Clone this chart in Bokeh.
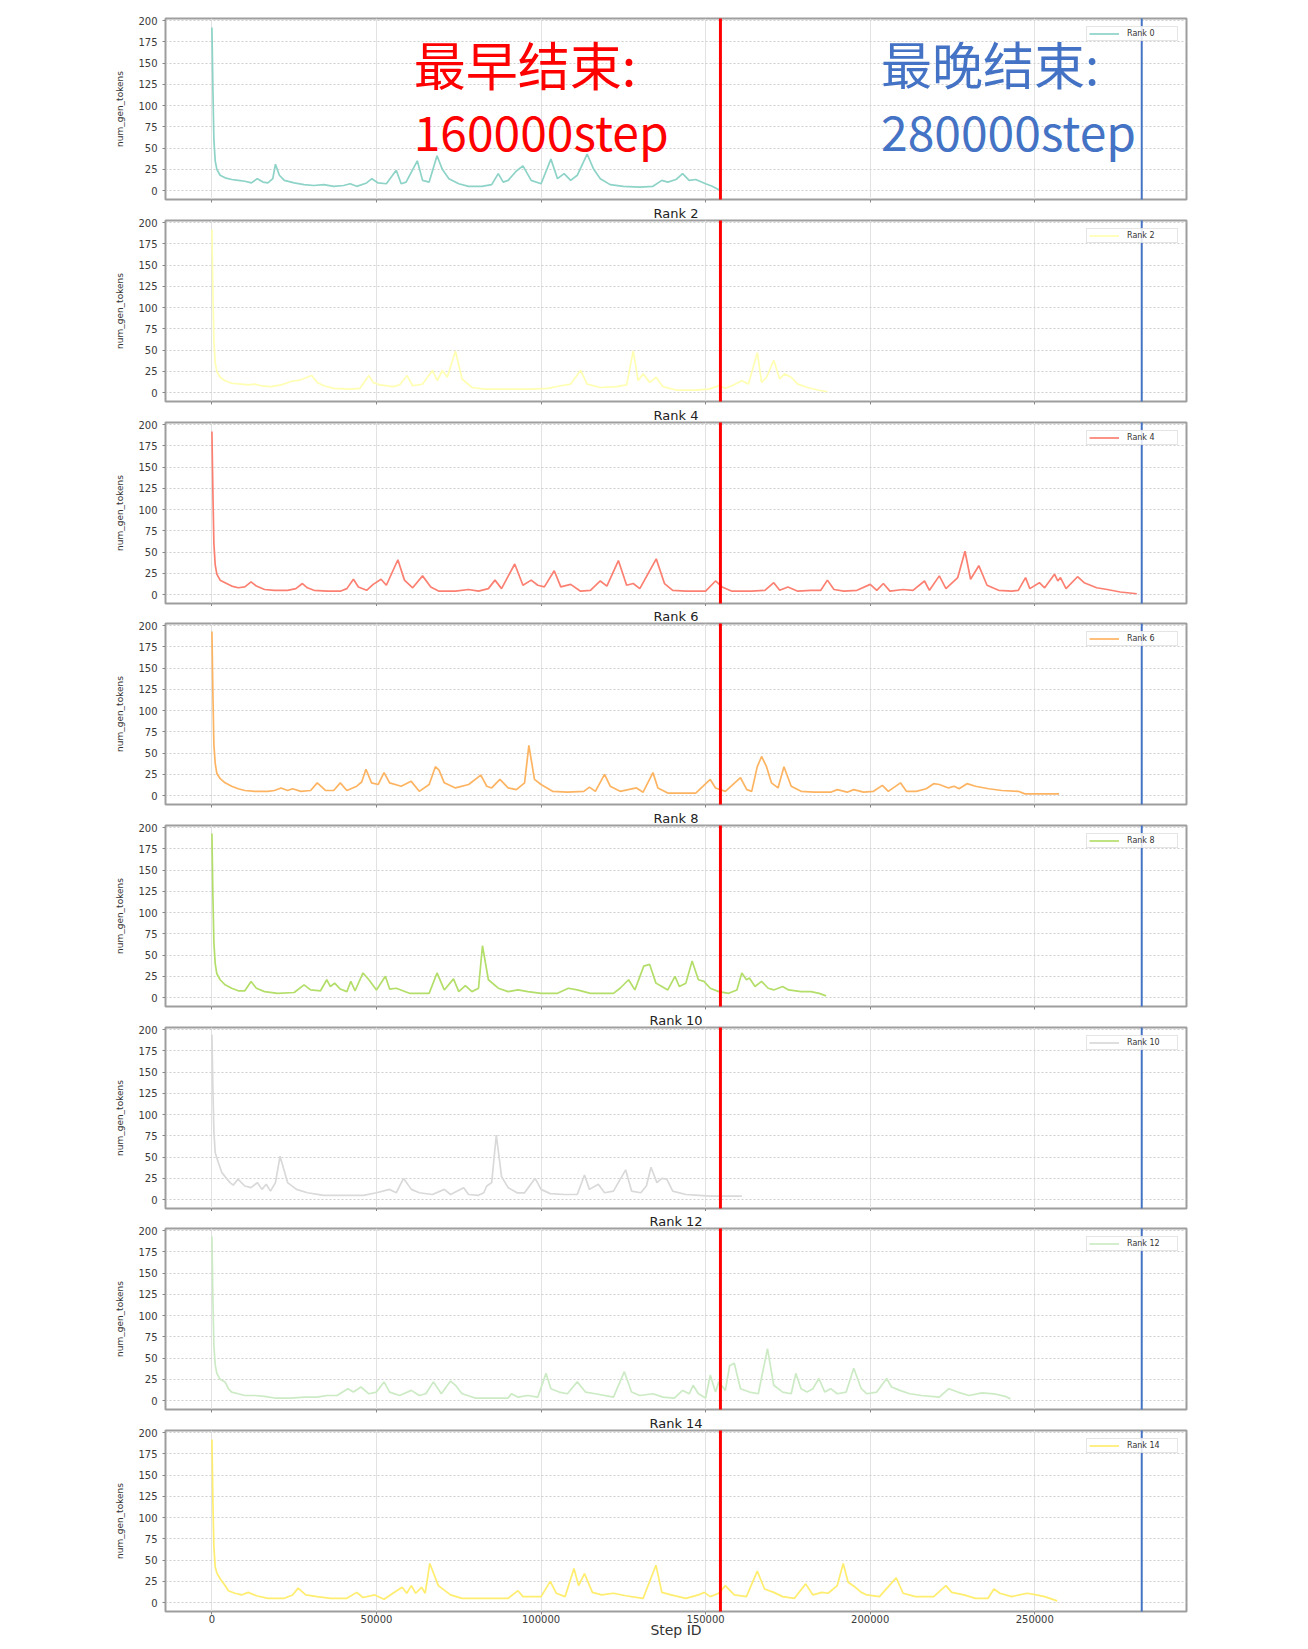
from bokeh.plotting import figure
from bokeh.layouts import column
from bokeh.models import Range1d, FixedTicker, BasicTickFormatter, BoxAnnotation, Label
from bokeh.embed import file_html
from bokeh.resources import INLINE

# ---------------- data ----------------
rank_names = ["Rank 0", "Rank 2", "Rank 4", "Rank 6", "Rank 8", "Rank 10", "Rank 12", "Rank 14"]
rank_colors = ["#8dd3c7", "#ffffb3", "#fb8072", "#fdb462", "#b3de69", "#d9d9d9", "#ccebc5", "#ffed6f"]
x_ticks = [0, 50000, 100000, 150000, 200000, 250000]
y_ticks = [0, 25, 50, 75, 100, 125, 150, 175, 200]
earliest_end_step = 154500
latest_end_step = 282500
earliest_text = ["最早结束:", "160000step"]
latest_text = ["最晚结束:", "280000step"]

rank0_x = [0, 300, 600, 1000, 1500, 2500, 4000, 6000, 8000, 10000, 12000, 13800, 15500, 17000, 18500,
           19300, 20500, 22000, 25000, 28000, 31000, 34000, 37000, 40000, 42000, 44000, 47000, 48600, 50500, 53000,
           56000, 57500, 59000, 62400, 64000, 66000, 68400, 70000, 72000, 75000, 78000, 82000, 85000, 87000, 88500,
           90000, 92500, 94500, 97000, 100000, 103000, 105000, 107000, 109000, 111000, 114000, 116000, 118000, 121000, 125000,
           130000, 134000, 136700, 138500, 141000, 143000, 145000, 147000, 150000, 152000, 154000]
rank0_y = [192, 120, 60, 35, 25, 18, 15, 13, 12, 11, 9, 14, 10, 9, 14,
           31, 18, 12, 9, 7, 6, 7, 5, 6, 8, 5, 9, 14, 9, 8,
           24, 8, 10, 35, 12, 10, 41, 25, 14, 8, 5, 5, 7, 20, 10,
           12, 23, 29, 12, 8, 37, 14, 20, 12, 18, 43, 25, 14, 7, 5,
           4, 5, 12, 10, 13, 20, 12, 13, 8, 5, 1]

rank2_x = [0, 300, 600, 1000, 1500, 2500, 4000, 6000, 9000, 11000, 13000, 15000, 18000, 21000, 24000,
           27000, 30300, 32000, 34000, 37000, 42000, 45000, 47700, 49000, 51000, 55000, 57000, 59300, 61000, 64000,
           67000, 68500, 70000, 71500, 74000, 76000, 79000, 83000, 90000, 97000, 102000, 106000, 109000, 112000, 114000,
           118000, 123000, 126000, 128000, 129500, 131000, 133000, 135000, 137000, 141000, 147000, 151000, 154000, 156000, 158000,
           161000, 163000, 165700, 167000, 168500, 170700, 172500, 174000, 176000, 178000, 181000, 184000, 187000]
rank2_y = [192, 120, 60, 35, 25, 18, 14, 11, 10, 9, 10, 8, 7, 9, 13,
           15, 20, 12, 8, 5, 4, 5, 20, 12, 9, 7, 9, 20, 8, 10,
           26, 14, 26, 18, 49, 16, 6, 4, 4, 4, 5, 8, 10, 26, 10,
           6, 7, 9, 49, 14, 22, 12, 18, 7, 3, 3, 4, 8, 5, 8,
           14, 10, 47, 12, 18, 38, 16, 22, 18, 10, 6, 3, 1]

rank4_x = [0, 300, 600, 1000, 1500, 2500, 4000, 6000, 8000, 10000, 11900, 13500, 16000, 19000, 23000,
           25500, 27500, 29000, 31000, 35000, 39000, 41000, 43000, 44500, 47000, 49000, 51400, 53000, 56500, 58500,
           61000, 64000, 66500, 69000, 74000, 78000, 81000, 84000, 86000, 88000, 92000, 94500, 97000, 99000, 101000,
           104000, 106000, 109000, 112000, 115000, 118000, 120000, 123500, 126000, 128000, 130000, 135000, 137500, 140000, 144000,
           150000, 153000, 155000, 158000, 164000, 168000, 170700, 172500, 175000, 178000, 182000, 185000, 187000, 189000, 192000,
           196000, 200000, 202000, 204000, 206000, 210000, 213000, 216500, 218000, 221000, 223000, 226600, 228800, 230500, 233000,
           235500, 239000, 243000, 245000, 247200, 248500, 251400, 253000, 256000, 257000, 257800, 259500, 263000, 265000, 268800,
           272000, 276000, 281000]
rank4_y = [192, 120, 60, 35, 24, 17, 14, 10, 8, 9, 15, 10, 6, 5, 5,
           7, 13, 8, 5, 4, 4, 7, 18, 9, 5, 12, 18, 11, 41, 17,
           8, 22, 9, 4, 4, 6, 4, 7, 17, 7, 36, 11, 17, 11, 9,
           28, 9, 12, 4, 5, 16, 10, 40, 11, 13, 7, 42, 13, 5, 4,
           4, 16, 9, 4, 4, 5, 14, 5, 9, 4, 5, 5, 17, 6, 4,
           5, 12, 5, 13, 4, 6, 5, 16, 5, 22, 7, 20, 51, 18, 34,
           11, 5, 4, 5, 20, 7, 14, 8, 24, 16, 20, 7, 21, 14, 8,
           6, 3, 1]

rank6_x = [0, 300, 600, 1000, 1500, 2500, 4000, 6000, 8000, 10000, 13000, 17000, 19000, 21000, 23000,
           24500, 27000, 30000, 32000, 34500, 37000, 39000, 41000, 44000, 45500, 46800, 48500, 50500, 52300, 54000,
           57500, 60500, 63000, 66000, 67900, 69000, 70600, 74000, 78000, 81700, 83500, 85000, 87500, 90000, 92500,
           95000, 96300, 98000, 100000, 103500, 108000, 113000, 114700, 116500, 119300, 121000, 124000, 129000, 131000, 134000,
           135500, 138500, 147000, 151400, 153000, 156000, 160600, 162500, 164000, 165700, 167000, 168500, 170000, 172000, 173800,
           176000, 179000, 183000, 188000, 190000, 193000, 195000, 198000, 201000, 203700, 205500, 209200, 211000, 214000, 217000,
           219300, 221000, 223800, 225500, 227000, 229400, 232000, 236000, 240000, 245000, 247000, 257400]
rank6_y = [193, 120, 60, 38, 26, 20, 15, 11, 8, 6, 5, 5, 6, 9, 6,
           8, 5, 6, 15, 6, 6, 15, 6, 11, 16, 31, 15, 13, 27, 15,
           11, 17, 5, 13, 34, 30, 15, 9, 13, 24, 11, 9, 19, 9, 7,
           15, 59, 19, 13, 5, 4, 5, 10, 5, 25, 11, 5, 9, 4, 27,
           9, 3, 3, 19, 9, 5, 21, 7, 5, 34, 46, 34, 15, 9, 34,
           11, 5, 4, 4, 7, 4, 7, 4, 5, 12, 5, 15, 5, 5, 8,
           14, 13, 9, 11, 8, 14, 11, 8, 6, 5, 2, 2]

rank8_x = [0, 300, 600, 1000, 1500, 2500, 4000, 6000, 8000, 10000, 11900, 13500, 16000, 20000, 25000,
           28000, 30000, 33000, 34900, 36000, 37300, 39000, 41000, 42200, 43500, 45900, 47700, 50000, 52700, 54000,
           56000, 60000, 66000, 68400, 70600, 73400, 75000, 77000, 79000, 81000, 82200, 84000, 87000, 90000, 93000,
           96000, 100000, 105000, 108300, 111000, 115000, 122000, 124000, 126600, 128500, 131200, 133000, 134900, 136700, 138500,
           140700, 142000, 144000, 145900, 147800, 149500, 151400, 154000, 157000, 159500, 161000, 162400, 163300, 165000, 167000,
           169000, 170700, 173400, 175200, 179000, 182000, 184500, 186600]
rank8_y = [193, 120, 65, 40, 28, 21, 15, 11, 8, 8, 19, 11, 7, 5, 6,
           15, 9, 8, 21, 13, 17, 10, 7, 19, 8, 29, 21, 9, 25, 10,
           11, 5, 5, 29, 9, 22, 7, 14, 7, 11, 61, 21, 11, 7, 9,
           7, 5, 5, 11, 9, 5, 5, 11, 21, 9, 37, 39, 17, 13, 9,
           25, 13, 17, 43, 21, 19, 11, 7, 5, 9, 29, 21, 23, 13, 19,
           11, 9, 13, 9, 7, 7, 5, 2]

rank10_x = [0, 300, 600, 1000, 2000, 3000, 4000, 5500, 6500, 7900, 10000, 11900, 13800, 15200, 16500,
            17800, 19300, 20700, 23000, 25700, 29000, 34000, 40000, 46000, 50000, 54000, 56000, 58200, 60600, 63000,
            67000, 70600, 72500, 76500, 78000, 81000, 82600, 83500, 85000, 86400, 88000, 90000, 92700, 95000, 98200,
            100000, 102800, 107000, 111000, 113200, 114700, 117400, 119300, 122000, 125700, 127500, 130300, 132000, 133400, 135200,
            136700, 138200, 140000, 144000, 148000, 151400, 155000, 161000]
rank10_y = [194, 130, 80, 55, 43, 32, 27, 20, 17, 24, 16, 14, 20, 12, 18,
            10, 20, 51, 20, 12, 8, 5, 5, 5, 8, 12, 8, 25, 12, 8,
            6, 12, 6, 14, 6, 5, 8, 16, 20, 76, 27, 14, 8, 8, 25,
            12, 7, 6, 6, 29, 12, 18, 8, 10, 35, 10, 8, 16, 38, 20,
            25, 24, 10, 6, 5, 4, 4, 4]

rank12_x = [0, 300, 600, 1000, 1500, 2500, 4000, 5000, 6000, 8000, 10000, 13000, 16000, 19000, 24000,
            28000, 32000, 35000, 38000, 41300, 43000, 45300, 47700, 50000, 52300, 54000, 57000, 60600, 63000, 65000,
            67300, 69700, 72500, 74000, 76000, 80000, 85000, 90000, 91000, 93000, 96000, 99000, 101500, 103000, 105500,
            108000, 111000, 113500, 116500, 122000, 125300, 127500, 130000, 134000, 137000, 140500, 143000, 145000, 146200, 147800,
            150000, 151400, 153000, 154000, 156000, 157300, 158700, 160600, 163300, 166000, 168800, 170700, 173400, 176000, 177400,
            179000, 180800, 182600, 184400, 186200, 188000, 190000, 192700, 195000, 197300, 199000, 202000, 205000, 206500, 209000,
            212000, 215600, 221000, 223900, 226600, 230000, 234000, 237600, 241000, 242600]
rank12_y = [193, 120, 65, 42, 32, 25, 22, 14, 10, 8, 6, 6, 5, 3, 3,
            4, 4, 6, 6, 14, 10, 16, 8, 10, 22, 10, 6, 12, 6, 8,
            22, 8, 23, 18, 8, 3, 3, 3, 8, 4, 6, 4, 32, 14, 10,
            8, 22, 10, 8, 4, 34, 10, 6, 8, 4, 3, 12, 8, 18, 8,
            3, 30, 10, 22, 12, 41, 44, 14, 10, 8, 61, 18, 10, 8, 32,
            14, 10, 14, 26, 10, 14, 8, 10, 38, 14, 8, 10, 26, 16, 12,
            8, 6, 4, 14, 10, 6, 9, 8, 5, 2]

rank14_x = [0, 300, 600, 1000, 1500, 2500, 4000, 5000, 7000, 9000, 11000, 13500, 17000, 22000, 24500,
            26200, 28500, 32000, 36000, 41000, 44000, 45900, 49500, 52300, 55000, 57800, 59200, 60600, 61900, 63700,
            64800, 66200, 68800, 72500, 76000, 85000, 90000, 93000, 94500, 98000, 100000, 102800, 104600, 107300, 110000,
            111400, 113200, 115600, 118400, 122000, 125700, 131000, 134900, 136700, 139500, 144000, 147800, 149600, 151400, 154000,
            156000, 158700, 162400, 165700, 167900, 170700, 173400, 177000, 180400, 182600, 185300, 187200, 190000, 191800, 193300,
            195500, 197300, 199000, 202800, 207900, 210000, 213800, 219300, 223000, 224800, 228500, 232000, 235800, 237600, 239400,
            243000, 247700, 250500, 253000, 256800]
rank14_y = [192, 120, 65, 42, 35, 28, 20, 14, 11, 9, 12, 8, 5, 5, 9,
            17, 9, 7, 5, 5, 12, 6, 9, 4, 11, 18, 11, 20, 11, 18,
            11, 46, 20, 9, 5, 5, 5, 14, 7, 7, 7, 25, 11, 7, 40,
            20, 34, 12, 9, 11, 8, 5, 44, 12, 9, 5, 9, 12, 7, 11,
            20, 9, 7, 37, 16, 12, 7, 5, 22, 9, 12, 11, 20, 46, 24,
            18, 12, 9, 7, 29, 11, 7, 7, 20, 12, 9, 5, 5, 16, 11,
            7, 11, 9, 7, 2]

series_x = [rank0_x, rank2_x, rank4_x, rank6_x, rank8_x, rank10_x, rank12_x, rank14_x]
series_y = [rank0_y, rank2_y, rank4_y, rank6_y, rank8_y, rank10_y, rank12_y, rank14_y]

# ---------------- layout ----------------
FRAME_W, FRAME_H = 1021, 181
top_borders = [18, 16, 16, 16, 16, 16, 16, 16]
bottom_borders = [4, 4, 3, 4, 4, 3, 4, 30]
FONT = "DejaVu Sans"

figs = []
n = len(rank_names)
start_y = 0
for i in range(n):
    last = i == n - 1
    p = figure(
        frame_width=FRAME_W, frame_height=FRAME_H,
        x_range=Range1d(-14100, 296100), y_range=Range1d(-10.5, 202.5),
        output_backend="svg", toolbar_location=None,
        min_border_left=165, min_border_right=40,
        min_border_top=top_borders[i], min_border_bottom=bottom_borders[i],
        title=None if i == 0 else rank_names[i],
        background_fill_color="white", border_fill_color="white",
    )
    if i > 0:
        p.title.align = "center"
        p.title.text_font = FONT
        p.title.text_font_size = "13px"
        p.title.text_font_style = "normal"
        p.title.text_color = "#222222"
        p.title.standoff = 0

    p.line(series_x[i], series_y[i], line_color=rank_colors[i], line_width=1.7,
           legend_label=rank_names[i])

    p.outline_line_color = "#9e9e9e"
    p.outline_line_width = 2

    # axes
    p.xaxis.ticker = FixedTicker(ticks=x_ticks)
    p.xaxis.formatter = BasicTickFormatter(use_scientific=False)
    p.yaxis.ticker = FixedTicker(ticks=y_ticks)
    for ax in (p.xaxis[0], p.yaxis[0]):
        ax.axis_line_color = None
        ax.major_tick_line_color = "#888888"
        ax.major_tick_out = 3
        ax.major_tick_in = 0
        ax.minor_tick_line_color = None
        ax.major_label_text_font = FONT
        ax.major_label_text_color = "#3a3a3a"
    p.yaxis.major_label_text_font_size = "10px"
    p.yaxis.major_label_standoff = 5
    p.yaxis.axis_label = "num_gen_tokens"
    p.yaxis.axis_label_text_font = FONT
    p.yaxis.axis_label_text_font_size = "9px"
    p.yaxis.axis_label_text_font_style = "normal"
    p.yaxis.axis_label_text_color = "#333333"
    p.yaxis.axis_label_standoff = 10
    if last:
        p.xaxis.major_label_text_font_size = "10px"
        p.xaxis.major_label_standoff = 0
        p.xaxis.axis_label = "Step ID"
        p.xaxis.axis_label_text_font = FONT
        p.xaxis.axis_label_text_font_size = "14px"
        p.xaxis.axis_label_text_font_style = "normal"
        p.xaxis.axis_label_text_color = "#333333"
        p.xaxis.axis_label_standoff = -4
    else:
        p.xaxis.major_label_text_color = None
        p.xaxis.major_label_text_font_size = "1px"
        p.xaxis.major_label_standoff = 0

    # grids
    p.xgrid.grid_line_color = "#e2e2e2"
    p.xgrid.grid_line_width = 1
    p.ygrid.grid_line_color = "#cfcfcf"
    p.ygrid.grid_line_dash = "2 2"
    p.ygrid.grid_line_width = 1

    # legend
    lg = p.legend[0]
    lg.location = "top_right"
    lg.margin = 8
    lg.padding = 2
    lg.spacing = 0
    lg.glyph_width = 30
    lg.glyph_height = 7
    lg.label_height = 7
    lg.label_width = 48
    lg.label_standoff = 8
    lg.label_text_font = FONT
    lg.label_text_font_size = "8px"
    lg.label_text_color = "#333333"
    lg.border_line_color = "#cccccc"
    lg.border_line_width = 1
    lg.background_fill_alpha = 0.85

    # vertical marker lines spanning the whole canvas height
    fig_h = top_borders[i] + FRAME_H + bottom_borders[i]
    top_c = 15 if i == 0 else 0
    bot_c = 1637 - start_y if last else fig_h + 12
    start_y += fig_h
    p.add_layout(BoxAnnotation(left=earliest_end_step - 450, right=earliest_end_step + 450,
                               top=top_c, bottom=bot_c, top_units="canvas", bottom_units="canvas",
                               fill_color="#ff0000", fill_alpha=1.0, line_color=None, level="overlay"))
    p.add_layout(BoxAnnotation(left=latest_end_step - 300, right=latest_end_step + 300,
                               top=top_c, bottom=bot_c, top_units="canvas", bottom_units="canvas",
                               fill_color="#4472c4", fill_alpha=1.0, line_color=None, level="overlay"))

    if i == 0:
        for txt, xx, yy, sz, col in [
            (earliest_text[0], 61300, 150, "52px", "#ff0000"),
            (earliest_text[1], 61300, 71.5, "48px", "#ff0000"),
            (latest_text[0], 203300, 150, "51px", "#4472c4"),
            (latest_text[1], 203300, 71.5, "48px", "#4472c4"),
        ]:
            p.add_layout(Label(x=xx, y=yy, text=txt, text_color=col, text_font="Noto Sans CJK SC",
                               text_font_size=sz, text_baseline="middle", text_align="left"))
    figs.append(p)

layout = column(*figs, spacing=0)
open("out.html", "w").write(file_html(layout, INLINE))
